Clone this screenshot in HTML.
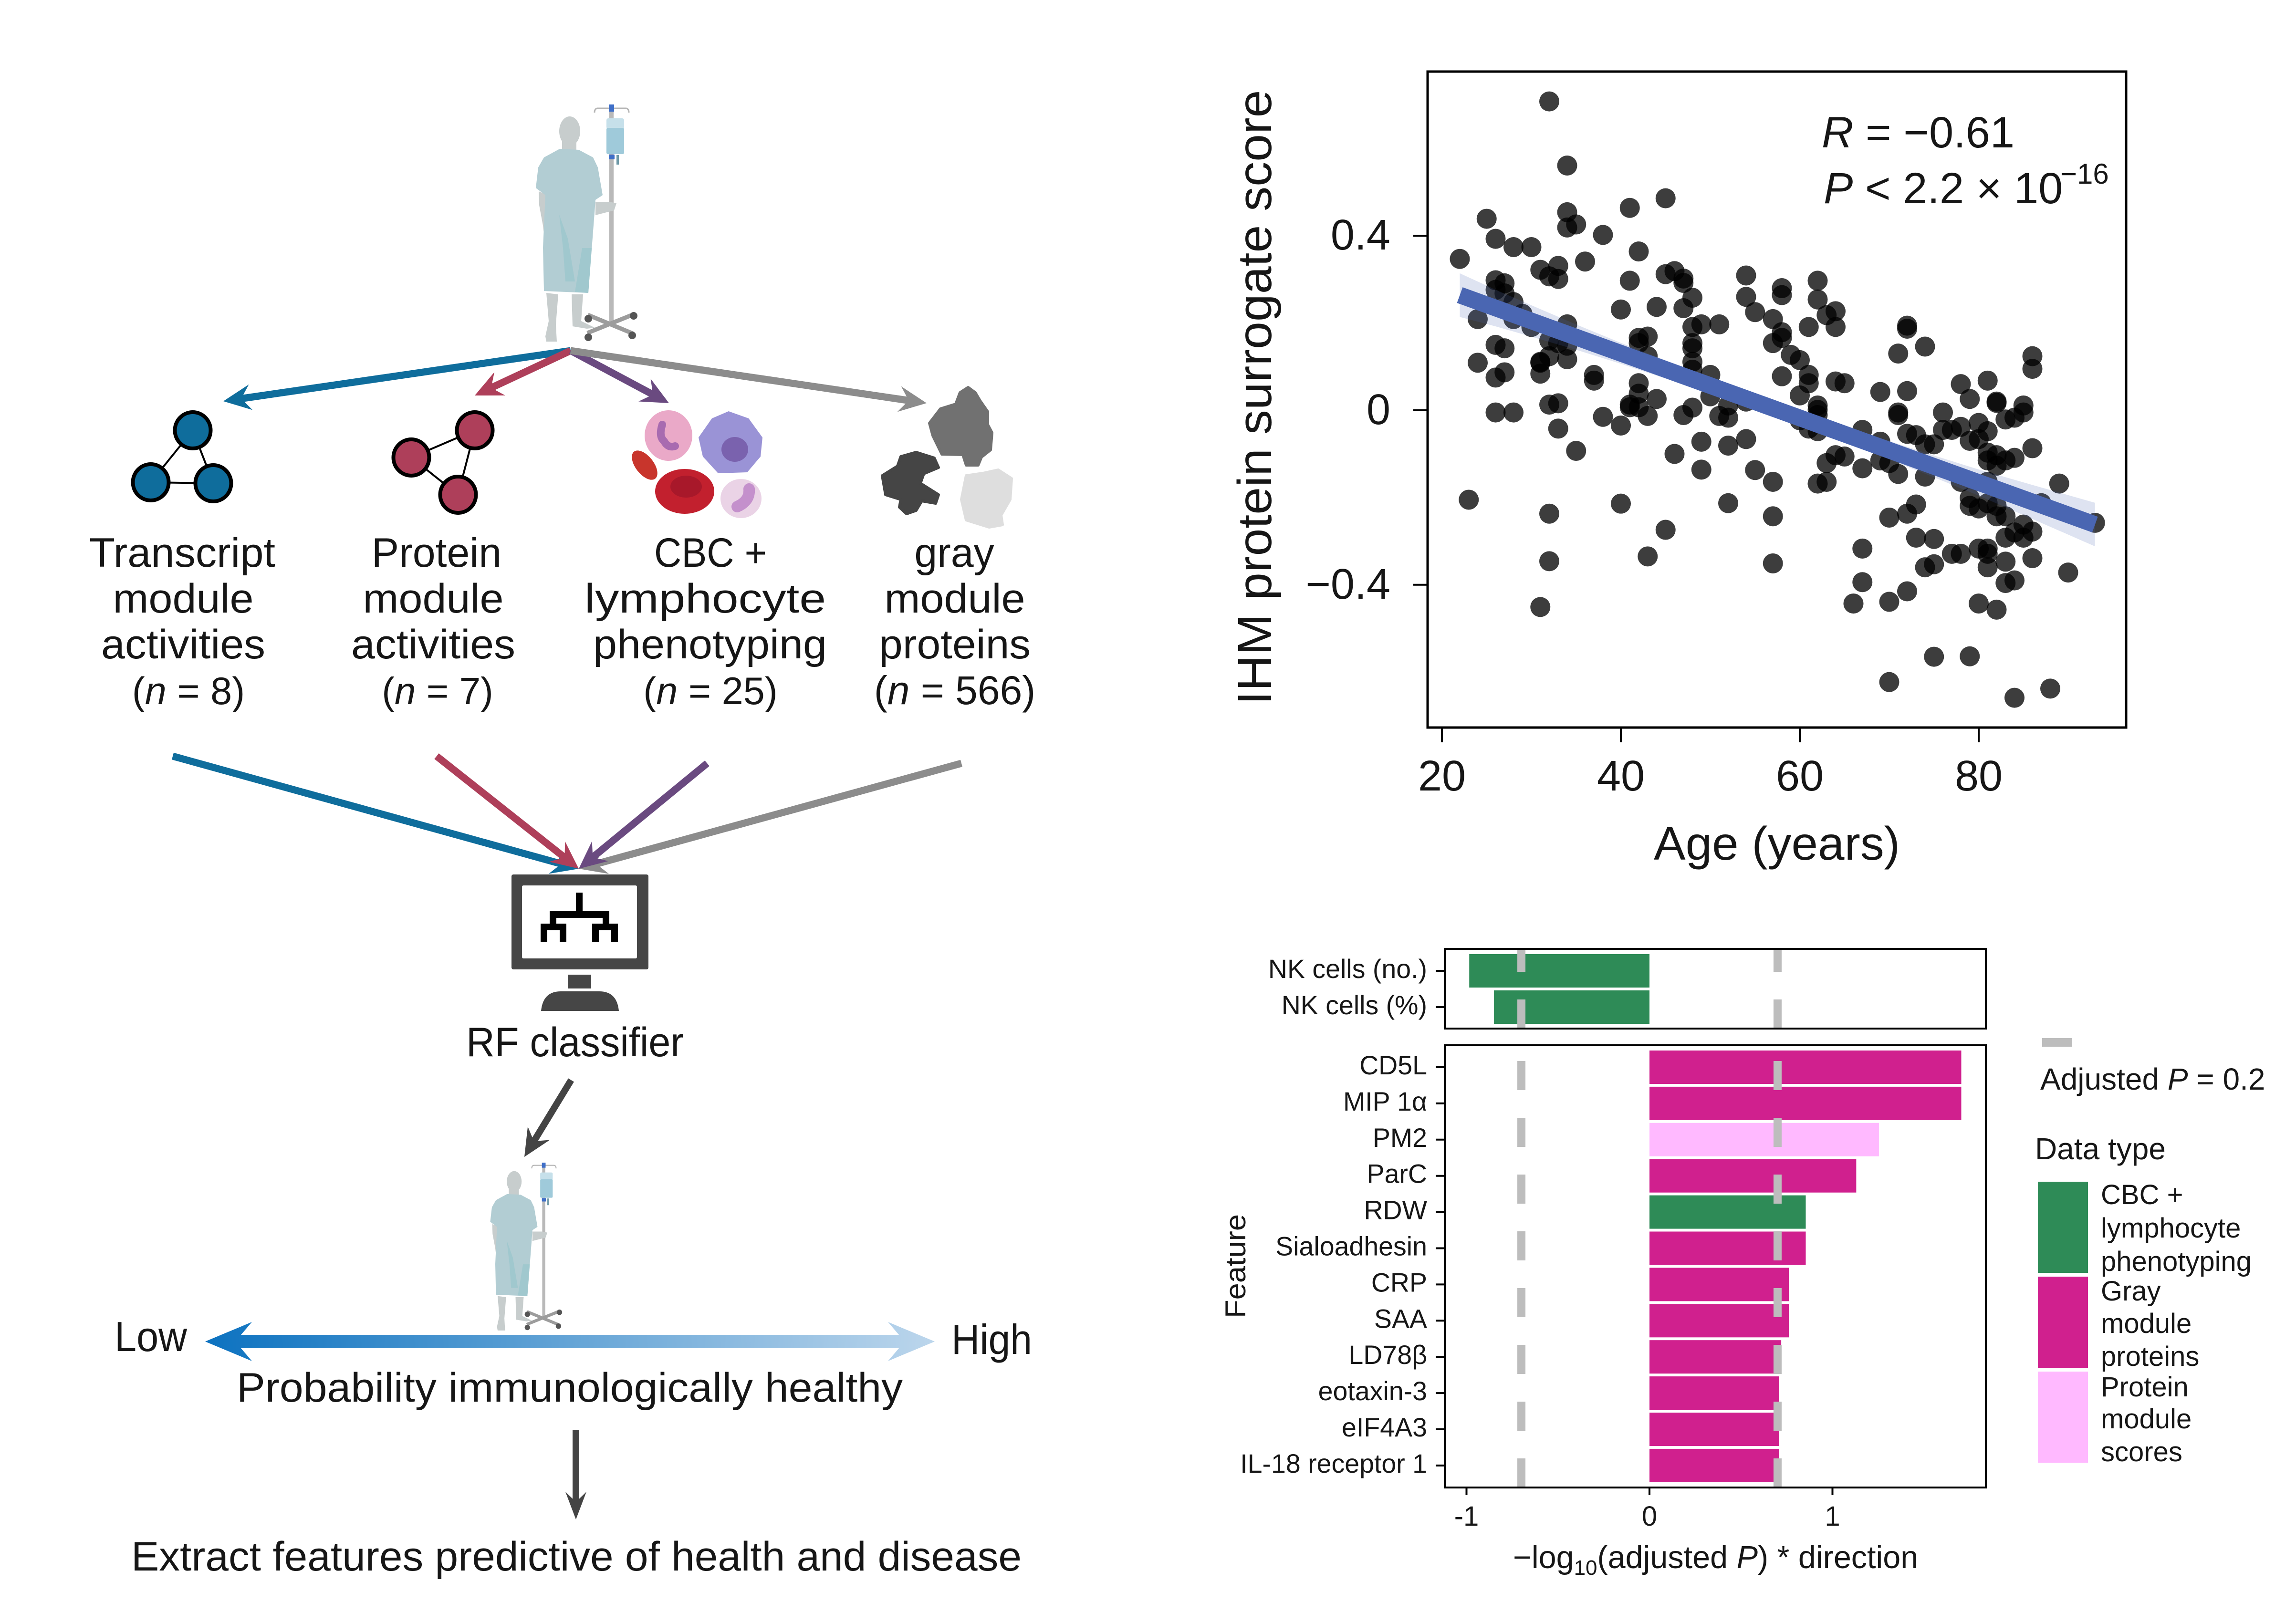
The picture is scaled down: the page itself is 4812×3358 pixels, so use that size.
<!DOCTYPE html>
<html lang="en">
<head>
<meta charset="utf-8">
<title>Immune health classifier figure</title>
<style>
html,body{margin:0;padding:0;background:#fff;}
svg{display:block;}
text{font-family:"Liberation Sans",sans-serif;fill:#161616;}
</style>
</head>
<body>
<svg id="fig" xmlns="http://www.w3.org/2000/svg" width="4812" height="3358" viewBox="0 0 4812 3358">
<defs>
<linearGradient id="probGrad" gradientUnits="userSpaceOnUse" x1="430" y1="0" x2="1959" y2="0">
<stop offset="0" stop-color="#0c72c0"/><stop offset="1" stop-color="#bcd6ec"/>
</linearGradient>
<g id="patient">
<rect x="1277" y="226" width="9" height="448" fill="#b9b9b9"/>
<path d="M1246 236 q0 -8 6 -9 L1312 227 q6 1 6 9" fill="none" stroke="#b5b5b5" stroke-width="3"/>
<rect x="1276" y="219" width="11" height="15" fill="#3f6fc8"/>
<rect x="1271" y="248" width="37" height="22" rx="4" fill="#c6e0ea"/>
<rect x="1271" y="268" width="37" height="55" rx="3" fill="#9fcada"/>
<rect x="1276" y="324" width="12" height="10" fill="#3f6fc8"/>
<rect x="1292" y="325" width="5" height="20" fill="#6f9aa8"/>
<path d="M1232 660 L1326 699 M1330 658 L1231 698" stroke="#9c9c9c" stroke-width="9" fill="none"/>
<circle cx="1233" cy="668" r="8" fill="#555"/><circle cx="1328" cy="662" r="8" fill="#555"/><circle cx="1233" cy="707" r="8" fill="#555"/><circle cx="1325" cy="703" r="8" fill="#555"/>
<polygon fill="#c7cdcd" points="1145,614 1170,617 1165,680 1167,716 1145,716 1143,705 1150,673"/>
<polygon fill="#c7cdcd" points="1198,617 1222,617 1218,673 1247,687 1230,689 1200,684"/>
<polygon fill="#c7cdcd" points="1129,401 1148,409 1160,501 1157,526 1143,516 1138,473 1130,430"/>
<polygon fill="#c7cdcd" points="1248,423 1277,423 1292,426 1287,441 1248,451"/>
<ellipse cx="1194" cy="275" rx="22" ry="31" fill="#c7cdcd"/>
<rect x="1178" y="295" width="30" height="24" fill="#c7cdcd"/>
<polygon fill="#b2cdd3" points="1173,312 1213,314 1243,330 1253,351 1263,409 1248,419 1245,459 1233,614 1140,610 1138,519 1143,409 1123,394 1128,351 1140,330"/>
<polygon fill="#a0c8ce" points="1172,450 1190,500 1205,590 1185,590 1180,520"/>
<polygon fill="#a0c8ce" points="1220,520 1240,520 1233,614 1205,612"/>
</g>
</defs>

<!-- ============ LEFT DIAGRAM ============ -->
<g id="diagram">
<use href="#patient"/>
<g id="arrows-layer"></g>

<g>
<path d="M404 902 L316 1011 M404 902 L447 1013 M316 1011 L447 1013" stroke="#000" stroke-width="4" fill="none"/>
<ellipse cx="404" cy="902" rx="37.5" ry="38" fill="#0f6d9c" stroke="#000" stroke-width="8"/>
<ellipse cx="316" cy="1011" rx="37.5" ry="38" fill="#0f6d9c" stroke="#000" stroke-width="8"/>
<ellipse cx="447" cy="1013" rx="37.5" ry="38" fill="#0f6d9c" stroke="#000" stroke-width="8"/>
</g>
<g>
<path d="M995 902 L862 959 M995 902 L960 1037 M862 959 L960 1037" stroke="#000" stroke-width="4" fill="none"/>
<ellipse cx="995" cy="902" rx="37.5" ry="38" fill="#ae3f5a" stroke="#000" stroke-width="8"/>
<ellipse cx="862" cy="959" rx="37.5" ry="38" fill="#ae3f5a" stroke="#000" stroke-width="8"/>
<ellipse cx="960" cy="1037" rx="37.5" ry="38" fill="#ae3f5a" stroke="#000" stroke-width="8"/>
</g>
<g>
<ellipse cx="1401" cy="913" rx="50" ry="53" fill="#eaa9c8"/>
<path d="M1388 890 Q1380 915 1392 925 Q1400 940 1415 935" fill="none" stroke="#a86bb0" stroke-width="16" stroke-linecap="round"/>
<polygon fill="#9a93d6" points="1527,862 1569,877 1598,917 1594,957 1566,990 1505,992 1473,957 1464,917 1492,877"/>
<ellipse cx="1540" cy="942" rx="28" ry="26" fill="#7a62ae"/>
<ellipse cx="1351" cy="975" rx="36" ry="19" fill="#c8352c" transform="rotate(52 1351 975)"/>
<ellipse cx="1435" cy="1030" rx="62" ry="47" fill="#c2202e"/>
<ellipse cx="1438" cy="1020" rx="33" ry="23" fill="#a8182a"/>
<ellipse cx="1553" cy="1045" rx="43" ry="41" fill="#ead3e6"/>
<path d="M1570 1025 Q1572 1050 1545 1062" fill="none" stroke="#c490cc" stroke-width="24" stroke-linecap="round"/>
</g>
<g>
<polygon fill="#717171" stroke="#717171" stroke-width="6" stroke-linejoin="round" points="2029,812 2044,823 2054,840 2070,863 2070,890 2079,907 2076,943 2057,958 2050,975 2025,975 2018,953 1974,952 1955,913 1948,887 1971,857 2003,847 2012,823"/>
<polygon fill="#454545" stroke="#454545" stroke-width="6" stroke-linejoin="round" points="1920,948 1958,960 1967,980 1936,993 1929,1013 1967,1037 1961,1055 1932,1050 1920,1070 1900,1077 1885,1063 1888,1047 1856,1037 1849,997 1881,977 1888,957"/>
<polygon fill="#dedede" stroke="#dedede" stroke-width="6" stroke-linejoin="round" points="2092,985 2120,1003 2117,1047 2098,1080 2101,1100 2073,1105 2025,1090 2015,1047 2025,997 2060,992"/>
</g>

<g font-size="86" text-anchor="middle">
<text x="382" y="1188" textLength="390" lengthAdjust="spacingAndGlyphs">Transcript</text>
<text x="384" y="1284" textLength="295" lengthAdjust="spacingAndGlyphs">module</text>
<text x="384" y="1380" textLength="344" lengthAdjust="spacingAndGlyphs">activities</text>
<text x="395" y="1476" font-size="81">(<tspan font-style="italic">n</tspan> = 8)</text>
<text x="915" y="1188">Protein</text>
<text x="908" y="1284" textLength="295" lengthAdjust="spacingAndGlyphs">module</text>
<text x="908" y="1380" textLength="344" lengthAdjust="spacingAndGlyphs">activities</text>
<text x="917" y="1476" font-size="80">(<tspan font-style="italic">n</tspan> = 7)</text>
<text x="1489" y="1188" textLength="236" lengthAdjust="spacingAndGlyphs">CBC +</text>
<text x="1478" y="1284" textLength="506" lengthAdjust="spacingAndGlyphs">lymphocyte</text>
<text x="1488" y="1380" textLength="490" lengthAdjust="spacingAndGlyphs">phenotyping</text>
<text x="1489" y="1476" font-size="81">(<tspan font-style="italic">n</tspan> = 25)</text>
<text x="2000" y="1188">gray</text>
<text x="2001" y="1284" textLength="295" lengthAdjust="spacingAndGlyphs">module</text>
<text x="2001" y="1380" textLength="318" lengthAdjust="spacingAndGlyphs">proteins</text>
<text x="2001" y="1476" font-size="84">(<tspan font-style="italic">n</tspan> = 566)</text>
</g>

<g>
<rect x="1072" y="1833" width="287" height="199" rx="4" fill="#464646"/>
<rect x="1094" y="1856" width="241" height="153" rx="3" fill="#fff"/>
<rect x="1190" y="2043" width="49" height="29" fill="#464646"/>
<path d="M1134 2119 Q1138 2078 1175 2078 L1256 2078 Q1293 2078 1297 2119 Z" fill="#464646"/>
<path d="M1214 1871 V1917 M1159 1943 V1917 H1270 V1943 M1140 1974 V1943 H1180 V1974 M1248 1974 V1943 H1288 V1974" fill="none" stroke="#000" stroke-width="14"/>
</g>
<text x="1205" y="2214" font-size="86" text-anchor="middle" textLength="456" lengthAdjust="spacingAndGlyphs">RF classifier</text>

<use href="#patient" transform="translate(232.3 2282) scale(0.708)"/>

<polygon fill="url(#probGrad)" points="430,2812 528,2771 505,2798 1884,2798 1861,2771 1959,2812 1861,2853 1884,2826 505,2826 528,2853"/>
<text x="240" y="2832" font-size="88" textLength="152" lengthAdjust="spacingAndGlyphs">Low</text>
<text x="1994" y="2838" font-size="88" textLength="169" lengthAdjust="spacingAndGlyphs">High</text>
<text x="1194" y="2938" font-size="86" text-anchor="middle" textLength="1396" lengthAdjust="spacingAndGlyphs">Probability immunologically healthy</text>
<text x="1208" y="3292" font-size="86" text-anchor="middle" textLength="1866" lengthAdjust="spacingAndGlyphs">Extract features predictive of health and disease</text>
</g>

<!-- ============ SCATTER PLOT ============ -->
<g id="scatter">
<g id="scatter-points"></g>
<g id="scatter-fit"></g>
<rect x="2992" y="150" width="1464" height="1375" fill="none" stroke="#000" stroke-width="5"/>
<g id="scatter-axes"></g>
<text transform="translate(2664 833) rotate(-90)" font-size="100" text-anchor="middle" textLength="1289" lengthAdjust="spacingAndGlyphs">IHM protein surrogate score</text>
<text x="3724" y="1802" font-size="98" text-anchor="middle" textLength="516" lengthAdjust="spacingAndGlyphs">Age (years)</text>
<text x="3818" y="309" font-size="92"><tspan font-style="italic">R</tspan> = −0.61</text>
<text x="3822" y="426" font-size="92"><tspan font-style="italic">P</tspan> &lt; 2.2 × 10</text>
<text x="4318" y="385" font-size="60">−16</text>
</g>

<!-- ============ BAR CHART ============ -->
<g id="bars">
<g id="bar-marks"></g>
<rect x="3028" y="1989" width="1134" height="167" fill="none" stroke="#000" stroke-width="4"/>
<rect x="3028" y="2191" width="1134" height="927" fill="none" stroke="#000" stroke-width="4"/>
<g id="bar-axes"></g>
<text transform="translate(2610 2654) rotate(-90)" font-size="60" text-anchor="middle" textLength="218" lengthAdjust="spacingAndGlyphs">Feature</text>
<text x="3171" y="3287" font-size="66.5">−log<tspan font-size="44" dy="14">10</tspan><tspan dy="-14">(adjusted </tspan><tspan font-style="italic">P</tspan>) * direction</text>
<rect x="4280" y="2176" width="62" height="18" fill="#bdbdbd"/>
<text x="4276" y="2284" font-size="64">Adjusted <tspan font-style="italic">P</tspan> = 0.2</text>
<text x="4265" y="2430" font-size="64">Data type</text>
<rect x="4271" y="2477" width="105" height="191" fill="#2e8b57"/>
<rect x="4271" y="2676" width="105" height="191" fill="#d0208e"/>
<rect x="4271" y="2875" width="105" height="191" fill="#ffb9ff"/>
<g font-size="58">
<text x="4403" y="2524">CBC +</text>
<text x="4403" y="2594">lymphocyte</text>
<text x="4403" y="2664">phenotyping</text>
<text x="4403" y="2726">Gray</text>
<text x="4403" y="2794">module</text>
<text x="4403" y="2863">proteins</text>
<text x="4403" y="2927">Protein</text>
<text x="4403" y="2994">module</text>
<text x="4403" y="3063">scores</text>
</g>
</g>
</svg>

<script>
// ---- scatter data ----
const ages = [
22,23,24,24,25,26,26,26,26,26,26,27,27,27,27,28,28,28,28,29,30,30,31,31,31,31,31,
32,32,32,32,32,32,32,33,33,33,33,33,34,34,34,34,34,34,35,35,36,37,37,38,38,40,40,40,
41,41,41,41,42,42,42,42,42,42,43,43,43,43,44,44,45,45,45,46,46,47,47,47,47,
48,48,48,48,48,48,48,49,49,49,50,50,51,51,52,52,52,52,54,54,54,54,55,55,
57,57,57,57,57,58,58,58,58,58,59,60,60,60,61,61,61,61,
62,62,62,62,62,62,62,63,63,63,64,64,64,64,65,65,66,67,67,67,67,69,69,69,
70,70,70,70,71,71,71,71,72,72,72,72,72,72,73,73,73,74,74,74,74,75,75,75,75,
76,76,77,77,78,78,78,78,79,79,79,79,79,80,80,80,80,80,
81,81,81,81,81,81,81,81,81,82,82,82,82,82,82,82,83,83,83,83,83,83,
84,84,84,84,84,85,85,85,85,86,86,86,86,86,87,88,89,90,93];
const scores = [
0.347,-0.205,0.209,0.109,0.439,0.393,0.298,0.276,0.150,0.075,-0.005,0.291,0.268,0.142,0.087,0.374,0.248,0.209,-0.005,0.221,0.374,0.191,0.322,0.111,0.084,0.109,-0.451,
0.708,0.307,0.160,0.124,0.013,-0.237,-0.346,0.331,0.301,0.154,0.016,-0.042,0.561,0.454,0.419,0.197,0.148,0.117,0.426,-0.093,0.341,0.081,0.068,0.402,-0.015,0.231,-0.035,-0.214,
0.464,0.297,0.013,0.007,0.364,0.166,0.154,0.062,0.038,0.007,0.169,0.124,-0.013,-0.335,0.237,0.026,0.486,0.312,-0.274,0.319,-0.100,0.302,0.292,0.234,-0.011,
0.258,0.191,0.154,0.142,0.111,0.093,0.006,0.197,-0.072,-0.136,0.081,0.032,0.197,-0.013,0.011,-0.017,-0.081,-0.213,0.309,0.260,-0.066,0.020,0.225,-0.137,
0.209,0.154,-0.164,-0.243,-0.351,0.280,0.264,0.179,0.166,0.078,0.127,0.115,0.034,-0.023,0.191,0.081,0.062,-0.042,
0.297,0.254,0.011,0.001,-0.011,-0.048,-0.168,0.218,-0.121,-0.164,0.227,0.191,0.066,-0.103,0.062,-0.106,-0.443,-0.045,-0.133,-0.317,-0.394,0.042,-0.072,-0.115,
-0.121,-0.246,-0.439,-0.623,0.130,-0.005,-0.011,-0.146,0.194,0.187,0.044,-0.054,-0.237,-0.415,-0.057,-0.216,-0.292,0.146,-0.078,-0.152,-0.360,-0.078,-0.295,-0.353,-0.565,
-0.005,-0.045,-0.045,-0.329,0.060,-0.038,-0.164,-0.329,0.026,-0.070,-0.201,-0.219,-0.564,-0.029,-0.066,-0.225,-0.317,-0.443,
0.068,-0.048,-0.097,-0.115,-0.164,-0.213,-0.317,-0.329,-0.360,0.020,0.017,-0.103,-0.127,-0.219,-0.243,-0.457,-0.021,-0.115,-0.243,-0.292,-0.347,-0.396,
-0.017,-0.109,-0.280,-0.390,-0.659,0.011,-0.005,-0.262,-0.292,0.124,0.095,-0.087,-0.278,-0.339,-0.213,-0.638,-0.168,-0.372,-0.258];
const fitAges = [22, 93];
const fitScores = [0.264, -0.262];
const ciAges = [22, 26, 30, 35, 40, 45, 50, 58, 64, 70, 75, 80, 86, 93];
const ciHalfWidths = [0.050, 0.042, 0.036, 0.029, 0.024, 0.021, 0.019, 0.018, 0.019, 0.021, 0.025, 0.030, 0.039, 0.050];
const scatterXTicks = [20, 40, 60, 80];
const scatterYTicks = [0.4, 0, -0.4];
const scatterYTickLabels = ['0.4', '0', '−0.4'];

// ---- bar data ----
const topFeatures = ['NK cells (no.)', 'NK cells (%)'];
const topValues = [-0.985, -0.85];
const topTypes = ['cbc', 'cbc'];
const mainFeatures = ['CD5L', 'MIP 1α', 'PM2', 'ParC', 'RDW', 'Sialoadhesin', 'CRP', 'SAA', 'LD78β', 'eotaxin-3', 'eIF4A3', 'IL-18 receptor 1'];
const mainValues = [1.704, 1.704, 1.254, 1.13, 0.854, 0.854, 0.762, 0.762, 0.72, 0.708, 0.708, 0.708];
const mainTypes = ['gray', 'gray', 'module', 'gray', 'cbc', 'gray', 'gray', 'gray', 'gray', 'gray', 'gray', 'gray'];
const typeColors = {cbc: '#2e8b57', gray: '#d0208e', module: '#ffb9ff'};
const barXTicks = [-1, 0, 1];
const barXTickLabels = ['-1', '0', '1'];
const significance = [-0.7, 0.7];

const NS = 'http://www.w3.org/2000/svg';
function mk(tag, attrs, parent) {
  const el = document.createElementNS(NS, tag);
  for (const k in attrs) el.setAttribute(k, attrs[k]);
  parent.appendChild(el);
  return el;
}

// ---- scatter axes functions ----
const sx = a => 3022 + (a - 20) * 18.75;
const sy = v => 860 - v * 914.4;

const ptLayer = document.getElementById('scatter-points');
ages.forEach((a, i) => {
  const el = mk('circle', {cx: sx(a), cy: sy(scores[i]), r: 21, fill: '#000', 'fill-opacity': 0.76}, ptLayer);
  
  
});

const fitLayer = document.getElementById('scatter-fit');
const fitAt = a => fitScores[0] + (a - fitAges[0]) * (fitScores[1] - fitScores[0]) / (fitAges[1] - fitAges[0]);
const upper = ciAges.map((a, i) => sx(a) + ',' + sy(fitAt(a) + ciHalfWidths[i]));
const lower = ciAges.map((a, i) => sx(a) + ',' + sy(fitAt(a) - ciHalfWidths[i])).reverse();
const band = mk('polygon', {points: upper.concat(lower).join(' '), fill: '#4a66b2', 'fill-opacity': 0.18}, fitLayer);


const fitLine = mk('line', {x1: sx(fitAges[0]), y1: sy(fitScores[0]), x2: sx(fitAges[1]), y2: sy(fitScores[1]), stroke: '#4a66b2', 'stroke-width': 35}, fitLayer);



const sAxes = document.getElementById('scatter-axes');
scatterXTicks.forEach(t => {
  const tick = mk('line', {x1: sx(t), x2: sx(t), y1: 1525, y2: 1556, stroke: '#000', 'stroke-width': 4}, sAxes);
  
  
  const lab = mk('text', {x: sx(t), y: 1657, 'font-size': 90, 'text-anchor': 'middle'}, sAxes);
  lab.textContent = String(t);
  
  
});
scatterYTicks.forEach((t, i) => {
  const tick = mk('line', {x1: 2962, x2: 2992, y1: sy(t), y2: sy(t), stroke: '#000', 'stroke-width': 4}, sAxes);
  
  
  const lab = mk('text', {x: 2914, y: sy(t) + 29, 'font-size': 90, 'text-anchor': 'end'}, sAxes);
  lab.textContent = scatterYTickLabels[i];
  
  
});

// ---- bar axes functions ----
const bx = v => 3457 + v * 383.5;
const topRowY = i => 2035 + i * 76;
const mainRowY = i => 2237 + i * 75.9;
const barH = 70;

const bMarks = document.getElementById('bar-marks');
const bAxes = document.getElementById('bar-axes');
function drawRow(label, value, type, yc) {
  const x0 = Math.min(bx(0), bx(value));
  const w = Math.abs(bx(value) - bx(0));
  const bar = mk('rect', {x: x0, y: yc - barH / 2, width: w, height: barH, fill: typeColors[type]}, bMarks);
  
  
  const tick = mk('line', {x1: 3009, x2: 3028, y1: yc, y2: yc, stroke: '#000', 'stroke-width': 4}, bAxes);
  
  
  const lab = mk('text', {x: 2991, y: yc + 15, 'font-size': 55.5, 'text-anchor': 'end'}, bAxes);
  lab.textContent = label;
  
  
}
topFeatures.forEach((f, i) => drawRow(f, topValues[i], topTypes[i], topRowY(i)));
mainFeatures.forEach((f, i) => drawRow(f, mainValues[i], mainTypes[i], mainRowY(i)));

significance.forEach(s => {
  const a = mk('line', {x1: bx(s), x2: bx(s), y1: 2156, y2: 1991, stroke: '#bdbdbd', 'stroke-width': 17, 'stroke-dasharray': '61 58'}, bMarks);
  
  
  const b = mk('line', {x1: bx(s), x2: bx(s), y1: 3118, y2: 2193, stroke: '#bdbdbd', 'stroke-width': 17, 'stroke-dasharray': '61 58'}, bMarks);
  
  
});

barXTicks.forEach((t, i) => {
  const tick = mk('line', {x1: bx(t), x2: bx(t), y1: 3118, y2: 3134, stroke: '#000', 'stroke-width': 4}, bAxes);
  
  
  const lab = mk('text', {x: bx(t), y: 3198, 'font-size': 58, 'text-anchor': 'middle'}, bAxes);
  lab.textContent = barXTickLabels[i];
  
  
});

// ---- workflow arrows (diagram, not data) ----
const arrowLayer = document.getElementById('arrows-layer');
function arrow(name, x1, y1, x2, y2, w, hl, hw, color) {
  const L = Math.hypot(x2 - x1, y2 - y1);
  const ux = (x2 - x1) / L, uy = (y2 - y1) / L, nx = -uy, ny = ux;
  const p = (d, o) => (x1 + ux * d + nx * o).toFixed(1) + ',' + (y1 + uy * d + ny * o).toFixed(1);
  const pts = [p(0, w / 2), p(L - hl * 0.75, w / 2), p(L - hl, hw / 2), p(L, 0), p(L - hl, -hw / 2), p(L - hl * 0.75, -w / 2), p(0, -w / 2)];
  const el = mk('polygon', {points: pts.join(' '), fill: color}, arrowLayer);
  
  
}
arrow('arrow-to-transcript', 1196, 735, 468, 841, 15, 58, 54, '#0f6d9c');
arrow('arrow-to-protein', 1196, 735, 995, 829, 15, 58, 54, '#ae3f5a');
arrow('arrow-to-cells', 1196, 735, 1402, 845, 15, 58, 54, '#6a4a80');
arrow('arrow-to-gray', 1196, 735, 1942, 845, 15, 58, 54, '#8c8c8c');
arrow('arrow-from-transcript', 362, 1585, 1213, 1821, 15, 58, 54, '#0f6d9c');
arrow('arrow-from-gray', 2015, 1600, 1213, 1821, 15, 58, 54, '#8c8c8c');
arrow('arrow-from-cells', 1482, 1600, 1213, 1821, 15, 58, 54, '#6a4a80');
arrow('arrow-from-protein', 915, 1585, 1213, 1821, 15, 58, 54, '#ae3f5a');
arrow('arrow-to-patient', 1197, 2264, 1099, 2425, 14, 58, 54, '#444444');
arrow('arrow-to-features', 1207, 2998, 1207, 3185, 14, 58, 44, '#444444');
</script>
</body>
</html>
